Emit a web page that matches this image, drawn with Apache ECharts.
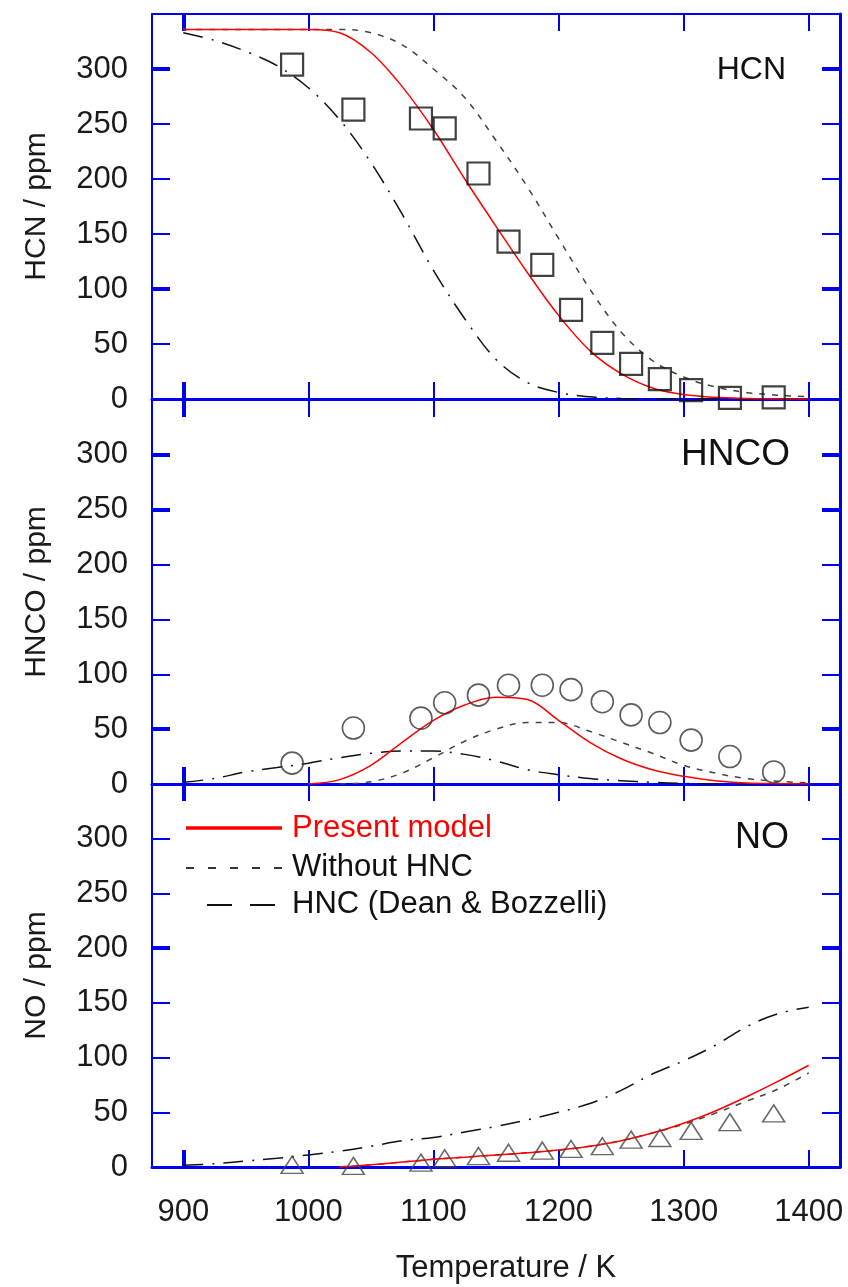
<!DOCTYPE html>
<html>
<head>
<meta charset="utf-8">
<script src="https://cdn.jsdelivr.net/npm/echarts@6/dist/echarts.min.js"></script>
<style>
html, body { margin: 0; padding: 0; background: #fff; }
#chart { width: 848px; height: 1287px; }
</style>
</head>
<body>
<div id="chart"></div>
<script>
// model curves, every 25 K
const modelT = [900, 925, 950, 975, 1000, 1025, 1050, 1075, 1100, 1125, 1150, 1175, 1200, 1225, 1250, 1275, 1300, 1325, 1350, 1375, 1400];

const hcnPresent = [336, 336, 336, 336, 336, 333, 315, 284, 245, 200, 157, 115, 76, 44, 23, 10, 4, 1.5, 0.5, 0, 0];
const hcnWithout = [336, 336, 336, 336, 336, 336, 333, 322, 300, 274, 235, 193, 146, 100, 61, 35, 20, 11, 6, 3.5, 2];
const hcnDean = [333, 326, 316, 303, 283, 254, 215, 168, 117, 73, 36, 15, 6, 2, 0.5, 0, 0, 0, 0, 0, 0];

const hncoPresent = [null, null, null, null, 0, 4, 17, 38, 58, 72, 79, 77, 58, 38, 23, 13, 7, 3, 1, 0.3, 0];
const hncoWithout = [null, null, null, null, null, 0, 2, 10, 24, 39, 50, 56, 56, 48, 38, 28, 17, 10, 5, 2.5, 1];
const hncoDean = [1.5, 5, 11, 15, 19, 24, 28, 30, 30, 27, 21, 13, 8.5, 5, 3, 1.5, 0.5, 0, 0, 0, 0];

const noPresent = [null, null, null, null, null, 0, 2, 4.5, 7, 9, 11, 13, 15.5, 19, 24, 31, 40, 51, 64, 78, 93];
const noWithout = [null, null, null, null, null, 0, 2, 4.5, 7, 9, 11, 13, 15.5, 19, 24, 31, 39, 49, 60, 71, 86];
const noDean = [1.5, 3, 5.5, 8, 11, 14.5, 19, 24, 27, 32, 37, 43, 50, 58, 70, 85, 97, 111, 128, 140, 146];

// measurements
const expT = [987, 1036, 1090, 1109, 1136, 1160, 1187, 1210, 1235, 1258, 1281, 1306, 1337, 1372];
const hcnExp = [304, 263, 255, 246, 205, 143, 122, 81, 51, 32, 18, 8, 1, 1.5];
const hncoExp = [19, 51, 60, 74, 81, 90, 90, 86, 75, 63, 56, 40, 25, 11];
const noExp = [2, 1, 4, 8, 10, 13, 15, 16.5, 19, 25, 26.5, 33, 41, 49];

const xTicks = [900, 1000, 1100, 1200, 1300, 1400];
const yTicks = [0, 50, 100, 150, 200, 250, 300];
const panelNames = ['HCN', 'HNCO', 'NO'];
const axisTitles = ['HCN / ppm', 'HNCO / ppm', 'NO / ppm'];
const thickY = [[100, 300], [50, 250, 300], [200]];

const BLUE = '#0000f0';
const FONT = '"Liberation Sans", Arial, sans-serif';

const grids = [
    { left: 152, width: 688, top: 14, height: 385 },
    { left: 152, width: 688, top: 400, height: 384 },
    { left: 152, width: 688, top: 784, height: 383 }
];

const pairs = (xs, ys) => xs.map((x, k) => [x, ys[k]]);

const xAxes = [];
const yAxes = [];
const series = [];

const panelData = [
    { present: hcnPresent, without: hcnWithout, dean: hcnDean, exp: hcnExp, symbol: 'rect', size: 22, bw: 2.2, bc: '#111' },
    { present: hncoPresent, without: hncoWithout, dean: hncoDean, exp: hncoExp, symbol: 'circle', size: 22, bw: 1.6, bc: '#333' },
    { present: noPresent, without: noWithout, dean: noDean, exp: noExp, symbol: 'triangle', size: [22, 17], bw: 1.5, bc: '#444' }
];

panelData.forEach((p, i) => {
    const last = i === 2;
    const baseX = {
        gridIndex: i, type: 'value', min: 875, max: 1425,
        splitLine: { show: false }
    };
    // bottom axis, labels only on the last panel
    xAxes.push(Object.assign({}, baseX, {
        position: 'bottom',
        axisLine: { onZero: false, lineStyle: { color: BLUE, width: 3 } },
        axisTick: { inside: true, length: 17, customValues: [1000, 1100, 1200, 1300, 1400], lineStyle: { color: BLUE, width: 2 } },
        axisLabel: {
            show: last, customValues: xTicks, margin: 30,
            formatter: v => String(v),
            color: '#1a1a1a', fontSize: 31, fontFamily: FONT
        },
        name: last ? 'Temperature / K' : '',
        nameLocation: 'middle', nameGap: 86,
        nameTextStyle: { color: '#1a1a1a', fontSize: 31, fontFamily: FONT, padding: [0, 0, 0, 20] }
    }));
    xAxes.push(Object.assign({}, baseX, {
        position: 'top',
        axisLine: { onZero: false, lineStyle: { color: BLUE, width: 2 } },
        axisTick: { inside: true, length: 17, customValues: [1000, 1100, 1200, 1300, 1400], lineStyle: { color: BLUE, width: 2 } },
        axisLabel: { show: false }
    }));
    ['bottom', 'top'].forEach(pos => {
        xAxes.push(Object.assign({}, baseX, {
            position: pos,
            axisLine: { show: false, onZero: false },
            axisTick: { inside: true, length: 17, customValues: [900], lineStyle: { color: BLUE, width: 4 } },
            axisLabel: { show: false }
        }));
    });

    const thin = [50, 100, 150, 200, 250, 300].filter(v => thickY[i].indexOf(v) < 0);
    const baseY = {
        gridIndex: i, type: 'value', min: 0, max: 350,
        splitLine: { show: false }
    };
    yAxes.push(Object.assign({}, baseY, {
        position: 'left',
        axisLine: { onZero: false, lineStyle: { color: BLUE, width: 2 } },
        axisTick: { inside: true, length: 18, customValues: thin, lineStyle: { color: BLUE, width: 2 } },
        axisLabel: { customValues: yTicks, margin: 24, color: '#1a1a1a', fontSize: 31, fontFamily: FONT },
        name: axisTitles[i], nameLocation: 'middle', nameGap: 100,
        nameTextStyle: { color: '#1a1a1a', fontSize: 30, fontFamily: FONT }
    }));
    yAxes.push(Object.assign({}, baseY, {
        position: 'right',
        axisLine: { onZero: false, lineStyle: { color: BLUE, width: 3 } },
        axisTick: { inside: true, length: 18, customValues: thin, lineStyle: { color: BLUE, width: 2 } },
        axisLabel: { show: false }
    }));
    ['left', 'right'].forEach(pos => {
        yAxes.push(Object.assign({}, baseY, {
            position: pos,
            axisLine: { show: false, onZero: false },
            axisTick: { inside: true, length: 18, customValues: thickY[i], lineStyle: { color: BLUE, width: 4 } },
            axisLabel: { show: false }
        }));
    });

    const xi = i * 4;
    const yi = i * 4;
    const lineBase = { type: 'line', xAxisIndex: xi, yAxisIndex: yi, symbol: 'none', smooth: 0.35, connectNulls: false, silent: true };
    series.push(Object.assign({}, lineBase, {
        name: 'HNC (Dean & Bozzelli)', data: pairs(modelT, p.dean), z: 3,
        lineStyle: { color: '#111', width: 1.5, type: [20, 9, 2, 9] }
    }));
    series.push(Object.assign({}, lineBase, {
        name: 'Without HNC', data: pairs(modelT, p.without), z: 3,
        lineStyle: { color: '#444', width: 1.5, type: [6, 7] }
    }));
    series.push(Object.assign({}, lineBase, {
        name: 'Present model', data: pairs(modelT, p.present), z: 4,
        lineStyle: { color: '#ff0000', width: 1.5 }
    }));
    series.push({
        type: 'scatter', xAxisIndex: xi, yAxisIndex: yi, z: 5, silent: true,
        data: pairs(expT, p.exp), symbol: p.symbol, symbolSize: p.size,
        itemStyle: { color: 'rgba(255,255,255,0)', borderColor: p.bc, borderWidth: p.bw }
    });
});

const labelFont = size => 'normal ' + size + 'px ' + FONT;
const graphic = [
    { type: 'text', x: 786, y: 70, style: { text: panelNames[0], fill: '#111', font: labelFont(32), align: 'right', verticalAlign: 'middle' } },
    { type: 'text', x: 790, y: 455, style: { text: panelNames[1], fill: '#111', font: labelFont(37), align: 'right', verticalAlign: 'middle' } },
    { type: 'text', x: 789, y: 838, style: { text: panelNames[2], fill: '#111', font: labelFont(36), align: 'right', verticalAlign: 'middle' } },
    // legend
    { type: 'line', shape: { x1: 186, y1: 828, x2: 282, y2: 828 }, style: { stroke: '#ff0000', lineWidth: 3.5 } },
    { type: 'text', x: 292, y: 828, style: { text: 'Present model', fill: '#ff0000', font: labelFont(31), verticalAlign: 'middle' } },
    { type: 'line', shape: { x1: 186, y1: 868, x2: 282, y2: 868 }, style: { stroke: '#333', lineWidth: 2, lineDash: [8, 14] } },
    { type: 'text', x: 292, y: 867, style: { text: 'Without HNC', fill: '#111', font: labelFont(31), verticalAlign: 'middle' } },
    { type: 'line', shape: { x1: 207, y1: 905, x2: 275, y2: 905 }, style: { stroke: '#111', lineWidth: 2, lineDash: [25, 18] } },
    { type: 'text', x: 292, y: 904, style: { text: 'HNC (Dean & Bozzelli)', fill: '#111', font: labelFont(31), verticalAlign: 'middle' } }
];

const chart = echarts.init(document.getElementById('chart'), null, { renderer: 'canvas' });
chart.setOption({
    backgroundColor: '#ffffff',
    animation: false,
    grid: grids,
    xAxis: xAxes,
    yAxis: yAxes,
    series: series,
    graphic: graphic
});
</script>
</body>
</html>
